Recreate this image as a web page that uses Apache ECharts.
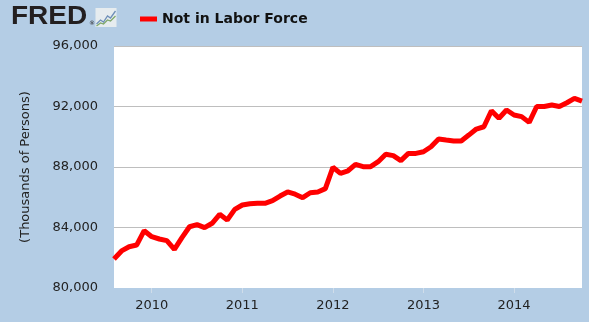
<!DOCTYPE html>
<html>
<head>
<meta charset="utf-8">
<script src="https://cdn.jsdelivr.net/npm/echarts@6/dist/echarts.min.js"></script>
<style>
html,body{margin:0;padding:0;background:#B4CDE5;}
#chart{width:589px;height:322px;}
</style>
</head>
<body>
<div id="chart"></div>
<script>
var months = [
 '2009-08','2009-09','2009-10','2009-11','2009-12',
 '2010-01','2010-02','2010-03','2010-04','2010-05','2010-06','2010-07','2010-08','2010-09','2010-10','2010-11','2010-12',
 '2011-01','2011-02','2011-03','2011-04','2011-05','2011-06','2011-07','2011-08','2011-09','2011-10','2011-11','2011-12',
 '2012-01','2012-02','2012-03','2012-04','2012-05','2012-06','2012-07','2012-08','2012-09','2012-10','2012-11','2012-12',
 '2013-01','2013-02','2013-03','2013-04','2013-05','2013-06','2013-07','2013-08','2013-09','2013-10','2013-11','2013-12',
 '2014-01','2014-02','2014-03','2014-04','2014-05','2014-06','2014-07','2014-08','2014-09','2014-10'
];
var notInLaborForce = [
 81920,82450,82730,82840,83790,
 83390,83240,83130,82560,83330,84050,84190,83990,84280,84870,84500,85200,
 85490,85570,85600,85600,85770,86080,86350,86200,85970,86300,86350,86570,
 87980,87580,87750,88170,88020,88020,88350,88840,88750,88420,88900,88900,
 89010,89340,89850,89780,89720,89720,90110,90510,90660,91720,91220,91770,
 91440,91330,90950,92000,92000,92100,92000,92250,92540,92360
];
var yearTicks = [2010, 2011, 2012, 2013, 2014];
var yTicks = [80000, 84000, 88000, 92000, 96000];
var seriesName = 'Not in Labor Force';
var yAxisTitle = '(Thousands of Persons)';

function toYear(m){ var p = m.split('-'); return (+p[0]) + (+p[1]-1)/12; }
var data = months.map(function(m,i){ return [toYear(m), notInLaborForce[i]]; });

var chart = echarts.init(document.getElementById('chart'), null, {renderer:'canvas'});
var font = 'DejaVu Sans';
chart.setOption({
  backgroundColor: '#B4CDE5',
  animation: false,
  grid: {left:114, right:7, top:46, bottom:34, show:true, backgroundColor:'#ffffff', borderWidth:0},
  legend: {
    left: 135, top: 7, icon: 'rect', itemWidth: 17, itemHeight: 5, itemGap: 6,
    textStyle: {fontFamily: font, fontSize: 14, fontWeight: 'bold', color: '#111'},
    data: [seriesName]
  },
  xAxis: {
    type: 'value',
    min: toYear(months[0]), max: toYear(months[months.length-1]),
    axisLine: {show:false},
    axisTick: {show:true, customValues: yearTicks, length: 5, lineStyle:{color:'#D0DDEA'}},
    splitLine: {show:false},
    axisLabel: {customValues: yearTicks, margin: 11, fontFamily: font, fontSize: 13, color:'#222',
      formatter: function(v){ return String(Math.round(v)); }}
  },
  yAxis: {
    type: 'value', min: yTicks[0], max: yTicks[yTicks.length-1], interval: 4000,
    name: yAxisTitle, nameLocation: 'middle', nameGap: 82, nameRotate: 90,
    nameTextStyle: {fontFamily: font, fontSize: 13, color:'#222'},
    axisLine: {show:false}, axisTick: {show:false},
    splitLine: {show:true, showMinLine:false, lineStyle:{color:'#BEBEBE', width:1}},
    axisLabel: {margin: 16, fontFamily: font, fontSize: 13, color:'#222',
      formatter: function(v){ return v.toLocaleString('en-US'); }}
  },
  series: [{
    name: seriesName, type: 'line', data: data, showSymbol: false,
    lineStyle: {color:'#FF0000', width:5}, itemStyle:{color:'#FF0000'}
  }],
  graphic: [
    {type:'text', left: 11, top: 5, style:{text:'FRED', font:'bold 25px "Liberation Sans"', fill:'#231F20'}, scaleX:1.12},
    {type:'text', left: 89, top: 20, style:{text:'®', font:'6px "DejaVu Sans"', fill:'#231F20'}},
    {type:'group', left: 94, top: 8, children:[
      {type:'rect', shape:{x:0,y:0,width:21,height:19}, style:{fill:'#E6ECEF'}},
      {type:'polyline', shape:{points:[[1,16],[5,12],[8,14],[12,8],[15,10],[20,3]]}, style:{stroke:'#6E8FB8', lineWidth:1.3, fill:null}},
      {type:'polyline', shape:{points:[[1,18],[5,15],[8,16],[12,12],[15,13],[20,8]]}, style:{stroke:'#7FA86A', lineWidth:1.3, fill:null}}
    ]}
  ]
});
</script>
</body>
</html>
